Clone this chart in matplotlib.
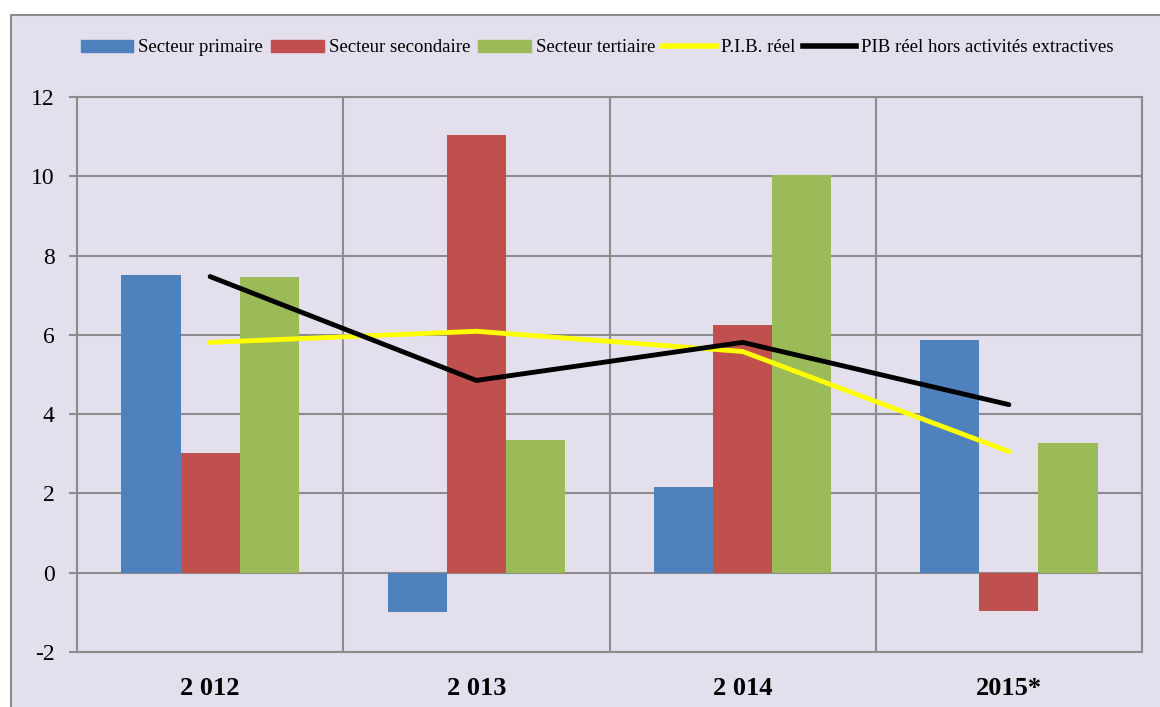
import numpy as np
import matplotlib.pyplot as plt
import matplotlib.patches as mpatches
from matplotlib.lines import Line2D

# ── Données ────────────────────────────────────────────────────────────────
annees     = ['2 012', '2 013', '2 014', '2015*']
primaire   = [7.5, -1.0, 2.15, 5.88]
secondaire = [3.03, 11.03, 6.26, -0.96]
tertiaire  = [7.47, 3.36, 10.02, 3.28]
pib_reel   = [5.81, 6.09, 5.58, 3.06]
pib_hors   = [7.47, 4.85, 5.81, 4.24]

BLEU, ROUGE, VERT = '#4F81BD', '#C0504D', '#9BBB59'
FOND  = '#E4DFEC'
GRIS  = '#8C8C8C'

plt.rcParams['font.family'] = ['Liberation Serif', 'DejaVu Serif']
plt.rcParams['axes.unicode_minus'] = False

fig = plt.figure(figsize=(11.6, 7.07), dpi=100)
fig.patch.set_facecolor('white')

# panneau de fond (zone du graphique Excel)
panneau = mpatches.Rectangle((11/1160, -0.01), 1.0, 0.9788 + 0.01,
                             transform=fig.transFigure, facecolor=FOND,
                             edgecolor=GRIS, linewidth=1.5, zorder=-10)
fig.patches.append(panneau)

ax = fig.add_axes([77/1160, 1 - 652/707, (1142 - 77)/1160, (652 - 97)/707])
ax.set_facecolor(FOND)

x = np.arange(len(annees))
w = 0.222
ax.bar(x - w, primaire,   w, color=BLEU,  zorder=3)
ax.bar(x,     secondaire, w, color=ROUGE, zorder=3)
ax.bar(x + w, tertiaire,  w, color=VERT,  zorder=3)
ax.plot(x, pib_reel, color='#FFFF00', lw=3.5, solid_capstyle='round', zorder=4)
ax.plot(x, pib_hors, color='black',   lw=3.5, solid_capstyle='round', zorder=5)

ax.set_xlim(-0.5, 3.5)
ax.set_ylim(-2, 12)
ax.set_yticks(range(-2, 13, 2))
ax.set_xticks(x)
ax.set_xticklabels(annees, fontsize=19, fontweight='bold')
ax.set_xticks(np.arange(-0.5, 4, 1), minor=True)
ax.tick_params(axis='x', which='both', length=0, pad=18)
ax.tick_params(axis='y', length=6, width=1.5, color=GRIS, labelsize=17, pad=10)

ax.grid(axis='y', color=GRIS, lw=1.5, zorder=1)
ax.grid(axis='x', which='minor', color=GRIS, lw=1.5, zorder=1)
for s in ax.spines.values():
    s.set_color(GRIS)
    s.set_linewidth(1.5)

# ── Légende ────────────────────────────────────────────────────────────────
poignees = [
    mpatches.Patch(color=BLEU),
    mpatches.Patch(color=ROUGE),
    mpatches.Patch(color=VERT),
    Line2D([], [], color='#FFFF00', lw=4),
    Line2D([], [], color='black', lw=4),
]
noms = ['Secteur primaire', 'Secteur secondaire', 'Secteur tertiaire',
        'P.I.B. réel', 'PIB réel hors activités extractives']
fig.legend(poignees, noms, loc='center', ncol=5,
           bbox_to_anchor=(597/1160, 1 - 48/707), frameon=False,
           fontsize=13.5, handlelength=2.8, handleheight=0.55,
           handletextpad=0.25, columnspacing=0.45)

plt.savefig('out.png', dpi=100)
